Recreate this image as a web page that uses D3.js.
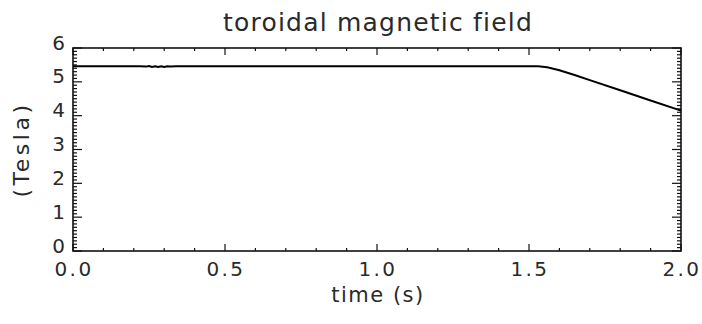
<!DOCTYPE html>
<html lang="en">
  <head>
    <meta charset="UTF-8" />
    <title>toroidal magnetic field</title>
    <script src="https://d3js.org/d3.v7.min.js"></script>
    <style>
      body {
        margin: 0;
        padding: 0;
        background: #fff;
      }
      svg text {
        font-family: "DejaVu Sans", sans-serif;
        fill: #2a2a2a;
      }
    </style>
  </head>
  <body>
    <div id="chart"></div>
    <script>
      // time (s) and field (Tesla)
      const times = [0.0, 0.22, 0.24, 0.25, 0.26, 0.27, 0.28, 0.29, 0.3, 0.31, 0.32, 0.34, 1.0, 1.53, 1.56, 1.6, 1.65, 1.7, 1.8, 1.9, 2.0];
      const field = [5.46, 5.46, 5.45, 5.47, 5.44, 5.46, 5.44, 5.46, 5.44, 5.46, 5.45, 5.46, 5.46, 5.46, 5.43, 5.34, 5.2, 5.05, 4.75, 4.45, 4.15];

      const xTicks = [0.0, 0.5, 1.0, 1.5, 2.0];
      const xTickLabels = ["0.0", "0.5", "1.0", "1.5", "2.0"];
      const yTicks = [0, 1, 2, 3, 4, 5, 6];

      const title = "toroidal magnetic field";
      const xTitle = "time (s)";
      const yTitle = "(Tesla)";

      const width = 702;
      const height = 324;
      const margin = { top: 48, right: 21, bottom: 73, left: 73 };
      const innerW = width - margin.left - margin.right;
      const innerH = height - margin.top - margin.bottom;

      const svg = d3
        .select("#chart")
        .append("svg")
        .attr("width", width)
        .attr("height", height);

      const g = svg
        .append("g")
        .attr("transform", `translate(${margin.left},${margin.top})`);

      const x = d3.scaleLinear().domain([0, 2]).range([0, innerW]);
      const y = d3.scaleLinear().domain([0, 6]).range([innerH, 0]);

      // minor ticks: 0.1 s on x, 0.1 T on y
      const xMinor = d3.range(0, 2.0001, 0.1);
      const yMinor = d3.range(0, 6.0001, 0.1);

      const tickStyle = (sel) =>
        sel.attr("stroke", "#111").attr("stroke-width", 1.2);

      // bottom + top ticks (inward)
      [innerH, 0].forEach((y0) => {
        const dir = y0 === 0 ? 1 : -1;
        g.append("g")
          .selectAll("line")
          .data(xMinor)
          .join("line")
          .attr("x1", (d) => x(d))
          .attr("x2", (d) => x(d))
          .attr("y1", y0)
          .attr("y2", (d) =>
            y0 + dir * (xTicks.some((t) => Math.abs(t - d) < 1e-6) ? 7 : 3)
          )
          .call(tickStyle);
      });

      // left + right ticks (inward)
      [0, innerW].forEach((x0) => {
        const dir = x0 === 0 ? 1 : -1;
        g.append("g")
          .selectAll("line")
          .data(yMinor)
          .join("line")
          .attr("y1", (d) => y(d))
          .attr("y2", (d) => y(d))
          .attr("x1", x0)
          .attr("x2", (d) =>
            x0 + dir * (yTicks.some((t) => Math.abs(t - d) < 1e-6) ? 9 : 4)
          )
          .call(tickStyle);
      });

      // frame
      g.append("rect")
        .attr("width", innerW)
        .attr("height", innerH)
        .attr("fill", "none")
        .attr("stroke", "#111")
        .attr("stroke-width", 1.6);

      // tick labels
      g.append("g")
        .selectAll("text")
        .data(xTicks)
        .join("text")
        .attr("x", (d) => x(d) + 1)
        .attr("y", innerH + 25)
        .attr("text-anchor", "middle")
        .attr("font-size", 20)
        .attr("letter-spacing", 2.4)
        .text((d, i) => xTickLabels[i]);

      g.append("g")
        .selectAll("text")
        .data(yTicks)
        .join("text")
        .attr("x", -8)
        .attr("y", (d) => y(d))
        .attr("dy", "0.08em")
        .attr("text-anchor", "end")
        .attr("font-size", 20)
        .text((d) => d);

      // data line
      const line = d3
        .line()
        .x((d, i) => x(times[i]))
        .y((d, i) => y(field[i]));

      g.append("path")
        .datum(field)
        .attr("fill", "none")
        .attr("stroke", "#000")
        .attr("stroke-width", 2)
        .attr("d", line);

      // titles
      svg.append("text")
        .attr("x", margin.left + innerW / 2 + 1)
        .attr("y", 31)
        .attr("text-anchor", "middle")
        .attr("font-size", 25)
        .attr("letter-spacing", 1.2)
        .text(title);

      svg.append("text")
        .attr("x", margin.left + innerW / 2 + 1)
        .attr("y", 302)
        .attr("text-anchor", "middle")
        .attr("font-size", 21)
        .attr("letter-spacing", 1.5)
        .text(xTitle);

      svg.append("text")
        .attr("transform", `translate(29,${margin.top + innerH / 2}) rotate(-90)`)
        .attr("text-anchor", "middle")
        .attr("font-size", 22)
        .attr("letter-spacing", 3.5)
        .text(yTitle);
    </script>
  </body>
</html>
